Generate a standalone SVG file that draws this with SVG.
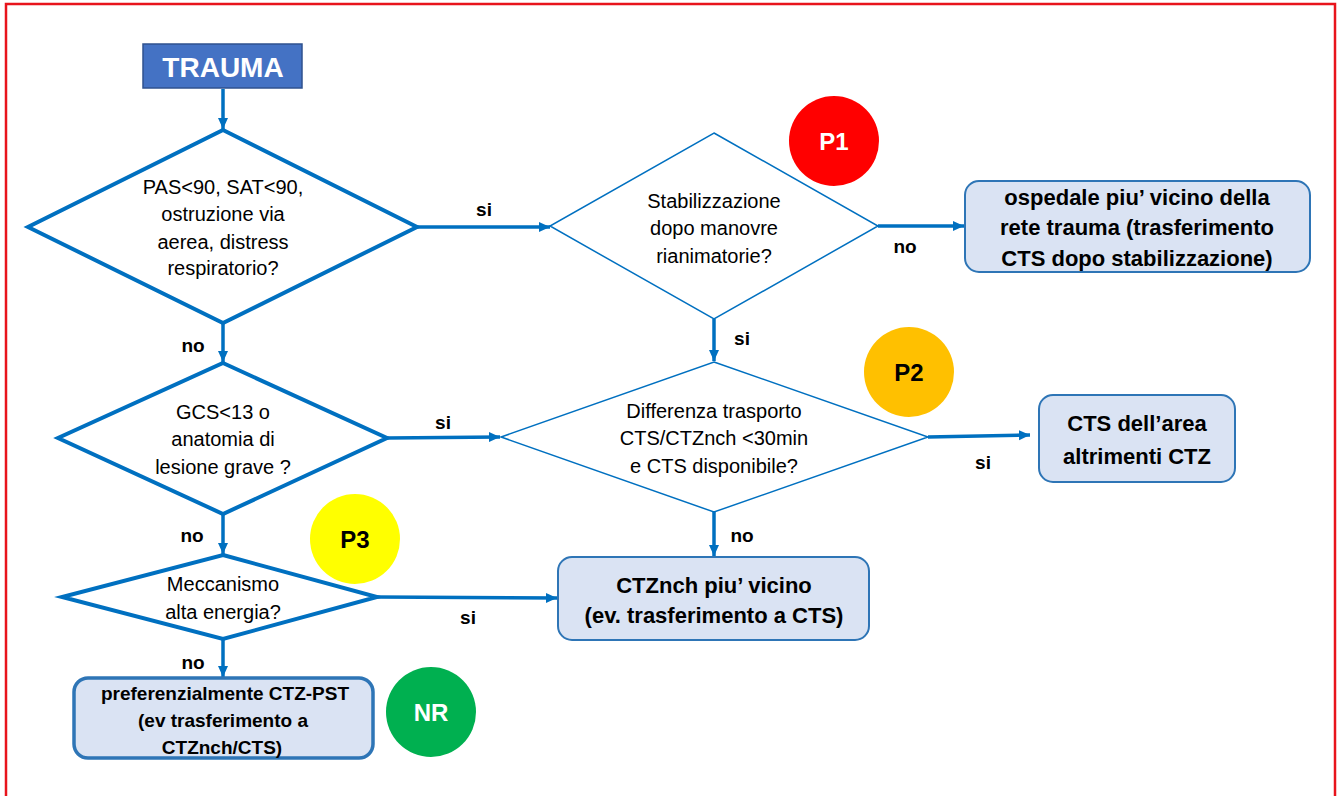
<svg xmlns="http://www.w3.org/2000/svg" width="1338" height="796" viewBox="0 0 1338 796">
<style>
.dia-thick{fill:#fff;stroke:#0070C0;stroke-width:4;stroke-linejoin:miter}
.dia-thin{fill:#fff;stroke:#0070C0;stroke-width:1.5}
.box{fill:#DAE3F3;stroke:#2E75B6;stroke-width:2}
.conn{fill:none;stroke:#0070C0;stroke-width:3.5}
.t{font-family:"Liberation Sans",Arial,sans-serif;font-size:20px;fill:#000;text-anchor:middle}
.tb{font-family:"Liberation Sans",Arial,sans-serif;font-size:22px;font-weight:bold;fill:#000;text-anchor:middle}
.lbl{font-family:"Liberation Sans",Arial,sans-serif;font-size:19px;font-weight:bold;fill:#000;text-anchor:middle}
.pc{font-family:"Liberation Sans",Arial,sans-serif;font-size:24px;font-weight:bold;text-anchor:middle}
</style>
<defs>
<marker id="arr" markerUnits="userSpaceOnUse" markerWidth="12" markerHeight="12" refX="11" refY="6" orient="auto">
<path d="M0,1 L11,6 L0,11 z" fill="#0070C0"/>
</marker>
</defs>
<rect x="6" y="4" width="1329" height="810" fill="none" stroke="#E8141C" stroke-width="2.5"/>

<g id="connectors">
<line class="conn" x1="223" y1="89" x2="223" y2="129" marker-end="url(#arr)"/>
<line class="conn" x1="417" y1="227" x2="550" y2="227" marker-end="url(#arr)"/>
<line class="conn" x1="878" y1="226" x2="964" y2="226" marker-end="url(#arr)"/>
<line class="conn" x1="714" y1="319" x2="714" y2="361" marker-end="url(#arr)"/>
<line class="conn" x1="928" y1="437" x2="1030" y2="435" marker-end="url(#arr)"/>
<line class="conn" x1="714" y1="512" x2="714" y2="556" marker-end="url(#arr)"/>
<line class="conn" x1="223" y1="323" x2="223" y2="362" marker-end="url(#arr)"/>
<line class="conn" x1="387" y1="438" x2="500" y2="437" marker-end="url(#arr)"/>
<line class="conn" x1="223" y1="514" x2="223" y2="554" marker-end="url(#arr)"/>
<line class="conn" x1="377" y1="597" x2="557" y2="598" marker-end="url(#arr)"/>
<line class="conn" x1="223" y1="639" x2="223" y2="677" marker-end="url(#arr)"/>
<text class="lbl" x="484" y="216">si</text>
<text class="lbl" x="905" y="253">no</text>
<text class="lbl" x="742" y="345">si</text>
<text class="lbl" x="193" y="352">no</text>
<text class="lbl" x="443" y="429">si</text>
<text class="lbl" x="983" y="469">si</text>
<text class="lbl" x="192" y="542">no</text>
<text class="lbl" x="742" y="542">no</text>
<text class="lbl" x="468" y="624">si</text>
<text class="lbl" x="193" y="669">no</text>
</g>

<g id="trauma">
<rect x="143" y="44" width="159" height="44" fill="#4472C4" stroke="#2F528F" stroke-width="1.5"/>
<text class="pc" x="223" y="77" fill="#fff" style="font-size:28px">TRAUMA</text>
</g>

<g id="d1">
<polygon class="dia-thick" points="223,130 417,227 223,323 28,227"/>
<text class="t" x="223" y="194">PAS&lt;90, SAT&lt;90,</text>
<text class="t" x="223" y="221">ostruzione via</text>
<text class="t" x="223" y="249">aerea, distress</text>
<text class="t" x="223" y="275">respiratorio?</text>
</g>

<g id="d2">
<polygon class="dia-thin" points="714,133 878,226 714,319 550,226"/>
<text class="t" x="714" y="208">Stabilizzazione</text>
<text class="t" x="714" y="235">dopo manovre</text>
<text class="t" x="714" y="263">rianimatorie?</text>
</g>

<g id="p1">
<circle cx="834" cy="141" r="45" fill="#FF0000"/>
<text class="pc" x="834" y="150" fill="#fff">P1</text>
</g>

<g id="box1">
<rect class="box" x="965" y="181" width="345" height="91" rx="14"/>
<text class="tb" x="1137" y="205">ospedale piu’ vicino della</text>
<text class="tb" x="1137" y="235">rete trauma (trasferimento</text>
<text class="tb" x="1137" y="266">CTS dopo stabilizzazione)</text>
</g>

<g id="d3">
<polygon class="dia-thin" points="714,362 928,437 714,512 501,437"/>
<text class="t" x="714" y="418">Differenza trasporto</text>
<text class="t" x="714" y="445">CTS/CTZnch &lt;30min</text>
<text class="t" x="714" y="473">e CTS disponibile?</text>
</g>

<g id="p2">
<circle cx="909" cy="372" r="45" fill="#FFC000"/>
<text class="pc" x="909" y="381" fill="#000">P2</text>
</g>

<g id="box2">
<rect class="box" x="1039" y="395" width="196" height="87" rx="14"/>
<text class="tb" x="1137" y="431">CTS dell’area</text>
<text class="tb" x="1137" y="464">altrimenti CTZ</text>
</g>

<g id="d4">
<polygon class="dia-thick" points="223,363 387,438 223,514 58,438"/>
<text class="t" x="223" y="419">GCS&lt;13 o</text>
<text class="t" x="223" y="446">anatomia di</text>
<text class="t" x="223" y="474">lesione grave ?</text>
</g>

<g id="box3">
<rect class="box" x="558" y="557" width="311" height="83" rx="14"/>
<text class="tb" x="714" y="593">CTZnch piu’ vicino</text>
<text class="tb" x="714" y="623">(ev. trasferimento a CTS)</text>
</g>

<g id="d5">
<polygon class="dia-thick" points="223,555 377,597 223,639 62,597"/>
<text class="t" x="223" y="591">Meccanismo</text>
<text class="t" x="223" y="619">alta energia?</text>
</g>

<g id="p3">
<circle cx="355" cy="539" r="45" fill="#FFFF00"/>
<text class="pc" x="355" y="548" fill="#000">P3</text>
</g>

<g id="box4">
<rect class="box" x="74" y="678" width="299" height="80" rx="14" style="stroke-width:3.5"/>
<text class="tb" x="225" y="700" style="font-size:19px">preferenzialmente CTZ-PST</text>
<text class="tb" x="223" y="727" style="font-size:19px">(ev trasferimento a</text>
<text class="tb" x="222" y="754" style="font-size:19px">CTZnch/CTS)</text>
</g>

<g id="nr">
<circle cx="431" cy="712" r="45" fill="#00B050"/>
<text class="pc" x="431" y="721" fill="#fff">NR</text>
</g>
</svg>
